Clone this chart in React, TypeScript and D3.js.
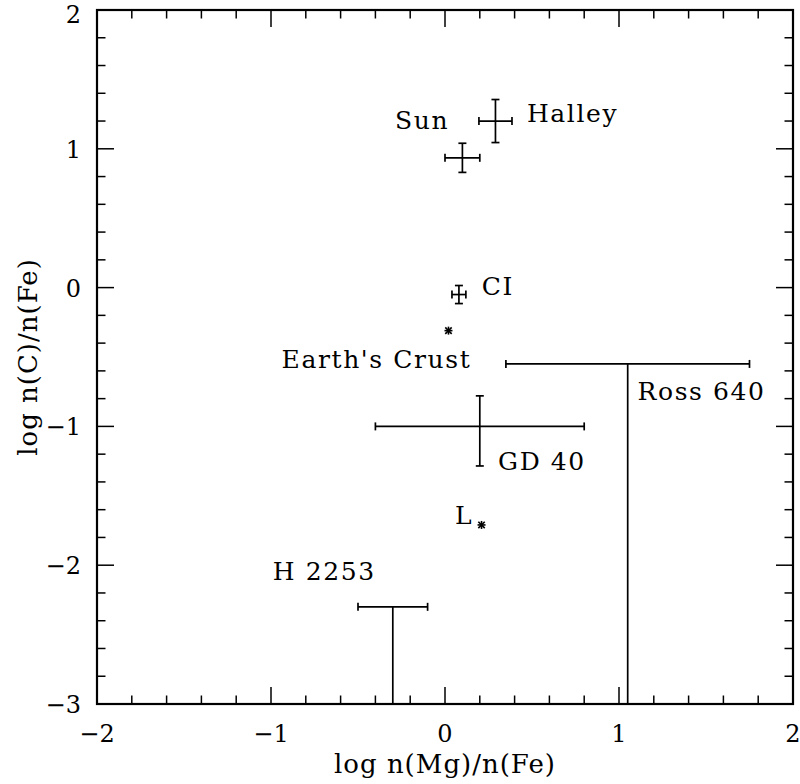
import React from "react";
import * as d3 from "d3";

// Objects with full error crosses
const crossNames = ["Sun", "Halley", "CI", "GD 40"];
const crossX = [0.1, 0.29, 0.08, 0.2];
const crossY = [0.935, 1.2, -0.05, -1.0];
const crossXErr = [0.1, 0.095, 0.04, 0.6];
const crossYErrHi = [0.105, 0.155, 0.065, 0.22];
const crossYErrLo = [0.105, 0.155, 0.065, 0.285];

// Upper limits in C (line down to the axis)
const limitNames = ["Ross 640", "H 2253"];
const limitX = [1.05, -0.3];
const limitY = [-0.55, -2.3];
const limitXErr = [0.7, 0.2];

// Single points drawn as asterisks
const starNames = ["Earth's Crust", "L"];
const starX = [0.02, 0.21];
const starY = [-0.31, -1.71];

// Annotation labels (left edge, baseline) in data coordinates
const labelText = ["Sun", "Halley", "CI", "Earth's Crust", "Ross 640", "GD 40", "L", "H 2253"];
const labelX = [-0.287, 0.471, 0.211, -0.939, 1.107, 0.305, 0.057, -0.99];
const labelY = [1.143, 1.193, -0.053, -0.581, -0.81, -1.312, -1.705, -2.107];

const xTicks = [-2, -1, 0, 1, 2];
const yTicks = [-3, -2, -1, 0, 1, 2];
const xTitle = "log n(Mg)/n(Fe)";
const yTitle = "log n(C)/n(Fe)";

const W = 800;
const H = 784;
const FONT = "'DejaVu Serif', serif";

export default function App() {
  const x = d3.scaleLinear().domain([-2, 2]).range([97, 793]);
  const y = d3.scaleLinear().domain([-3, 2]).range([704, 10]);
  const [x0, x1] = x.range();
  const [y0, y1] = y.range();

  const minorX = d3.range(-2, 2.0001, 0.2).map((v) => +v.toFixed(2));
  const minorY = d3.range(-3, 2.0001, 0.2).map((v) => +v.toFixed(2));
  const isMajor = (v: number) => Math.abs(v - Math.round(v)) < 1e-6;
  const MAJ = 17;
  const MIN = 8.5;
  const CAP = 4;
  const lw = 1.7;
  const fmt = (v: number) => (v < 0 ? "\u2212" + Math.abs(v) : String(v));

  const tickEls: React.ReactNode[] = [];
  minorX.forEach((v, i) => {
    const L = isMajor(v) ? MAJ : MIN;
    const px = x(v);
    tickEls.push(<line key={"xb" + i} x1={px} x2={px} y1={y0} y2={y0 - L} />);
    tickEls.push(<line key={"xt" + i} x1={px} x2={px} y1={y1} y2={y1 + L} />);
  });
  minorY.forEach((v, i) => {
    const L = isMajor(v) ? MAJ : MIN;
    const py = y(v);
    tickEls.push(<line key={"yl" + i} x1={x0} x2={x0 + L} y1={py} y2={py} />);
    tickEls.push(<line key={"yr" + i} x1={x1} x2={x1 - L} y1={py} y2={py} />);
  });

  const hbar = (k: string, lo: number, hi: number, cy: number) => (
    <g key={k}>
      <line x1={x(lo)} x2={x(hi)} y1={y(cy)} y2={y(cy)} />
      <line x1={x(lo)} x2={x(lo)} y1={y(cy) - CAP} y2={y(cy) + CAP} />
      <line x1={x(hi)} x2={x(hi)} y1={y(cy) - CAP} y2={y(cy) + CAP} />
    </g>
  );
  const vbar = (k: string, cx: number, lo: number, hi: number) => (
    <g key={k}>
      <line x1={x(cx)} x2={x(cx)} y1={y(lo)} y2={y(hi)} />
      <line x1={x(cx) - CAP} x2={x(cx) + CAP} y1={y(lo)} y2={y(lo)} />
      <line x1={x(cx) - CAP} x2={x(cx) + CAP} y1={y(hi)} y2={y(hi)} />
    </g>
  );

  return (
    <svg
      width={W}
      height={H}
      style={{ position: "absolute", left: 0, top: 0, background: "#fff" }}
      fontFamily={FONT}
    >
      <rect x={0} y={0} width={W} height={H} fill="#fff" />
      <g stroke="#000" strokeWidth={1.5} fill="none">
        {tickEls}
      </g>
      <rect x={x0} y={y1} width={x1 - x0} height={y0 - y1} fill="none" stroke="#000" strokeWidth={2.2} />

      {/* tick labels */}
      <g fontSize={24} fill="#000">
        {xTicks.map((v) => (
          <text key={"xl" + v} x={x(v)} y={742} textAnchor="middle">
            {fmt(v)}
          </text>
        ))}
        {yTicks.map((v) => (
          <text key={"yl" + v} x={81} y={Math.max(y(v) + 9, 23)} textAnchor="end">
            {fmt(v)}
          </text>
        ))}
      </g>

      {/* axis titles */}
      <text x={(x0 + x1) / 2} y={773} textAnchor="middle" fontSize={26} letterSpacing={1} fill="#000">
        {xTitle}
      </text>
      <text
        transform={`translate(37,${(y0 + y1) / 2}) rotate(-90)`}
        textAnchor="middle"
        fontSize={26}
        letterSpacing={1}
        fill="#000"
      >
        {yTitle}
      </text>

      {/* data */}
      <g stroke="#000" strokeWidth={lw} fill="none">
        {crossNames.map((n, i) => (
          <g key={n}>
            {hbar("h" + i, crossX[i] - crossXErr[i], crossX[i] + crossXErr[i], crossY[i])}
            {vbar("v" + i, crossX[i], crossY[i] - crossYErrLo[i], crossY[i] + crossYErrHi[i])}
          </g>
        ))}
        {limitNames.map((n, i) => (
          <g key={n}>
            {hbar("lh" + i, limitX[i] - limitXErr[i], limitX[i] + limitXErr[i], limitY[i])}
            <line x1={x(limitX[i])} x2={x(limitX[i])} y1={y(limitY[i])} y2={y0} />
          </g>
        ))}
        {starNames.map((n, i) => {
          const cx = x(starX[i]);
          const cy = y(starY[i]);
          const r = 4;
          return (
            <g key={n} strokeWidth={1.6}>
              <line x1={cx - r} x2={cx + r} y1={cy} y2={cy} />
              <line x1={cx} x2={cx} y1={cy - r} y2={cy + r} />
              <line x1={cx - r * 0.8} x2={cx + r * 0.8} y1={cy - r * 0.8} y2={cy + r * 0.8} />
              <line x1={cx - r * 0.8} x2={cx + r * 0.8} y1={cy + r * 0.8} y2={cy - r * 0.8} />
            </g>
          );
        })}
      </g>

      {/* labels */}
      <g fontSize={25} fill="#000" letterSpacing={1.6}>
        {labelText.map((t, i) => (
          <text key={t} x={x(labelX[i])} y={y(labelY[i])}>
            {t}
          </text>
        ))}
      </g>
    </svg>
  );
}
